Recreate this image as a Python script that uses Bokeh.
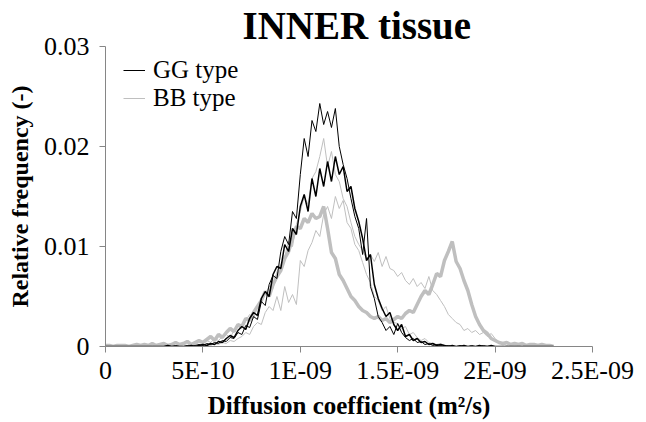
from bokeh.plotting import figure
from bokeh.models import Title, Legend, LegendItem, FixedTicker, Range1d
from bokeh.embed import file_html
from bokeh.resources import INLINE

# Bin centres of the diffusion coefficient histogram (units of 1E-09 m²/s), 0.00 .. 2.30 step 0.02
X_NS = [round(0.02 * i, 2) for i in range(116)]

GG_THIN = [
    0, 0, 0, 0, 0,
    0, 0, 0, 0, 0,
    0, 0, 0, 0, 0,
    0, 0, 0, 0.0001, 0,
    0, 0.0001, 0, 0.0001, 0.0002,
    0.0001, 0.0003, 0.0002, 0.0004, 0.0003,
    0.0006, 0.0005, 0.0009, 0.0008, 0.0014,
    0.0012, 0.0021, 0.0019, 0.0030, 0.0027,
    0.0045, 0.0041, 0.0062, 0.0071, 0.0068,
    0.0095, 0.0110, 0.0102, 0.0135, 0.0128,
    0.0172, 0.0208, 0.0190, 0.0226, 0.0215,
    0.0243, 0.0222, 0.0235, 0.0219, 0.0238,
    0.0200, 0.0182, 0.0168, 0.0148, 0.0130,
    0.0118, 0.0092, 0.0128, 0.0060, 0.0048,
    0.0030, 0.0024, 0.0016, 0.0020, 0.0012,
    0.0023, 0.0014, 0.0009, 0.0006, 0.0008,
    0.0004, 0.0005, 0.0002, 0.0003, 0.0001,
    0.0002, 0.0001, 0, 0.0001, 0,
    0, 0.0001, 0, 0, 0.0001,
    0, 0, 0.0001, 0, 0,
    0, 0, 0, 0, 0,
    0, 0, 0, 0, 0,
    0, 0, 0, 0, 0,
    0,
]

GG_MED = [
    0, 0, 0, 0, 0,
    0, 0, 0, 0, 0,
    0, 0, 0, 0, 0,
    0, 0.0001, 0, 0, 0,
    0, 0, 0.0001, 0, 0.0001,
    0.0002, 0.0001, 0.0003, 0.0002, 0.0005,
    0.0004, 0.0008, 0.0011, 0.0009, 0.0016,
    0.0020, 0.0017, 0.0028, 0.0034, 0.0031,
    0.0048, 0.0055, 0.0050, 0.0072, 0.0080,
    0.0078, 0.0102, 0.0095, 0.0118, 0.0112,
    0.0140, 0.0152, 0.0135, 0.0168, 0.0150,
    0.0178, 0.0160, 0.0185, 0.0165, 0.0190,
    0.0172, 0.0180, 0.0155, 0.0160, 0.0138,
    0.0125, 0.0108, 0.0086, 0.0092, 0.0062,
    0.0048, 0.0038, 0.0030, 0.0034, 0.0022,
    0.0016, 0.0022, 0.0010, 0.0012, 0.0006,
    0.0008, 0.0004, 0.0005, 0.0002, 0.0003,
    0.0001, 0.0002, 0.0001, 0, 0.0001,
    0, 0, 0.0001, 0, 0,
    0, 0.0001, 0, 0, 0.0001,
    0, 0, 0, 0, 0,
    0, 0, 0, 0, 0,
    0, 0, 0, 0, 0,
    0,
]

BB_THIN_A = [
    0, 0, 0, 0, 0,
    0, 0, 0, 0, 0,
    0, 0.0001, 0, 0.0001, 0,
    0.0001, 0, 0.0002, 0.0001, 0.0001,
    0.0002, 0.0001, 0.0003, 0.0002, 0.0004,
    0.0003, 0.0006, 0.0004, 0.0008, 0.0006,
    0.0010, 0.0012, 0.0009, 0.0016, 0.0020,
    0.0018, 0.0026, 0.0032, 0.0028, 0.0040,
    0.0046, 0.0052, 0.0060, 0.0058, 0.0075,
    0.0082, 0.0090, 0.0105, 0.0100, 0.0122,
    0.0135, 0.0150, 0.0142, 0.0168, 0.0175,
    0.0190, 0.0208, 0.0180, 0.0195, 0.0172,
    0.0165, 0.0148, 0.0140, 0.0124, 0.0110,
    0.0102, 0.0096, 0.0088, 0.0092, 0.0085,
    0.0094, 0.0080, 0.0090, 0.0078, 0.0076,
    0.0070, 0.0074, 0.0066, 0.0062, 0.0068,
    0.0060, 0.0064, 0.0058, 0.0070, 0.0056,
    0.0052, 0.0046, 0.0040, 0.0032, 0.0028,
    0.0024, 0.0022, 0.0016, 0.0018, 0.0014,
    0.0016, 0.0012, 0.0014, 0.0010, 0.0013,
    0.0008, 0.0004, 0.0003, 0.0001, 0.0002,
    0.0001, 0, 0, 0, 0,
    0, 0, 0, 0, 0,
    0,
]

BB_THIN_B = [
    0, 0, 0, 0, 0,
    0, 0, 0, 0, 0,
    0, 0, 0.0001, 0, 0,
    0, 0.0001, 0, 0, 0.0001,
    0, 0.0001, 0, 0.0001, 0,
    0.0001, 0.0002, 0.0001, 0.0003, 0.0002,
    0.0004, 0.0003, 0.0006, 0.0005, 0.0008,
    0.0010, 0.0014, 0.0012, 0.0020, 0.0024,
    0.0022, 0.0034, 0.0040, 0.0036, 0.0050,
    0.0036, 0.0060, 0.0044, 0.0052, 0.0042,
    0.0086, 0.0080, 0.0096, 0.0104, 0.0116,
    0.0110, 0.0132, 0.0140, 0.0128, 0.0150,
    0.0138, 0.0146, 0.0124, 0.0118, 0.0102,
    0.0096, 0.0084, 0.0072, 0.0064, 0.0050,
    0.0046, 0.0036, 0.0040, 0.0028, 0.0024,
    0.0023, 0.0018, 0.0020, 0.0012, 0.0014,
    0.0009, 0.0006, 0.0008, 0.0004, 0.0003,
    0.0002, 0.0003, 0.0001, 0.0001, 0,
    0, 0.0001, 0, 0, 0,
    0, 0, 0, 0.0001, 0,
    0, 0, 0, 0, 0,
    0, 0, 0, 0, 0,
    0, 0, 0, 0, 0,
    0,
]

BB_THICK = [
    0.0001, 0.0001, 0, 0.0001, 0.0001,
    0.0001, 0, 0.0001, 0.0002, 0.0001,
    0.0002, 0.0001, 0.0003, 0.0001, 0.0002,
    0.0003, 0.0001, 0.0002, 0.0004, 0.0002,
    0.0003, 0.0005, 0.0002, 0.0004, 0.0006,
    0.0004, 0.0007, 0.0010, 0.0006, 0.0012,
    0.0009, 0.0014, 0.0018, 0.0015, 0.0022,
    0.0020, 0.0028, 0.0026, 0.0034, 0.0040,
    0.0046, 0.0055, 0.0050, 0.0062, 0.0070,
    0.0076, 0.0088, 0.0095, 0.0108, 0.0120,
    0.0118, 0.0128, 0.0124, 0.0133, 0.0128,
    0.0130, 0.0140, 0.0118, 0.0094, 0.0088,
    0.0072, 0.0066, 0.0058, 0.0050, 0.0046,
    0.0040, 0.0036, 0.0034, 0.0030, 0.0028,
    0.0030, 0.0026, 0.0028, 0.0024, 0.0027,
    0.0030, 0.0028, 0.0033, 0.0036, 0.0034,
    0.0042, 0.0050, 0.0056, 0.0052, 0.0062,
    0.0073, 0.0070, 0.0086, 0.0095, 0.0105,
    0.0085, 0.0078, 0.0066, 0.0056, 0.0042,
    0.0030, 0.0022, 0.0016, 0.0013, 0.0008,
    0.0006, 0.0004, 0.0003, 0.0004, 0.0002,
    0.0003, 0.0002, 0.0003, 0.0001, 0.0002,
    0.0002, 0.0001, 0.0002, 0.0001, 0.0001,
    0,
]

X_TICKS = [0, 0.5, 1.0, 1.5, 2.0, 2.5]
X_TICK_LABELS = ["0", "5E-10", "1E-09", "1.5E-09", "2E-09", "2.5E-09"]
Y_TICKS = [0, 0.01, 0.02, 0.03]
Y_TICK_LABELS = ["0", "0.01", "0.02", "0.03"]

TITLE = "INNER tissue"
X_LABEL = "Diffusion coefficient (m²/s)"
Y_LABEL = "Relative frequency (-)"
SERIES_NAMES = ["GG type", "BB type"]

FONT = "Liberation Serif"
BLACK = "#000000"
GRAY = "#bfbfbf"
AXIS_GRAY = "#868686"

p = figure(
    width=646, height=422,
    frame_width=487, frame_height=300,
    x_range=Range1d(0, 2.5), y_range=Range1d(0, 0.03),
    output_backend="svg", toolbar_location=None,
    min_border_left=105, min_border_right=54, min_border_top=46, min_border_bottom=76,
)
p.outline_line_color = None
p.xgrid.visible = False
p.ygrid.visible = False
p.background_fill_color = "white"
p.border_fill_color = "white"

title = Title(text=TITLE, align="left", offset=137, text_font=FONT,
              text_font_size="39px", text_font_style="bold", text_color="black",
              standoff=0)
p.add_layout(title, "above")

# Lines (gray first, black above)
r_bb_thick = p.line(X_NS, BB_THICK, line_color=GRAY, line_width=3.5)
r_bb_a = p.line(X_NS, BB_THIN_A, line_color=GRAY, line_width=1)
r_bb_b = p.line(X_NS, BB_THIN_B, line_color=GRAY, line_width=1)
r_gg_med = p.line(X_NS, GG_MED, line_color=BLACK, line_width=1.5)
r_gg_thin = p.line(X_NS, GG_THIN, line_color=BLACK, line_width=1)

legend = Legend(
    items=[LegendItem(label=SERIES_NAMES[0], renderers=[r_gg_thin]),
           LegendItem(label=SERIES_NAMES[1], renderers=[r_bb_a])],
    location=(18, 234), padding=0, margin=0, spacing=0,
    glyph_width=22, glyph_height=28, label_height=28, label_standoff=8,
    label_text_font=FONT, label_text_font_size="25px", label_text_color="black",
    border_line_alpha=0, background_fill_alpha=0,
)
p.add_layout(legend, "center")

# Axes
p.xaxis.ticker = FixedTicker(ticks=X_TICKS)
p.xaxis.major_label_overrides = {t: l for t, l in zip(X_TICKS, X_TICK_LABELS)}
p.yaxis.ticker = FixedTicker(ticks=Y_TICKS)
p.yaxis.major_label_overrides = {t: l for t, l in zip(Y_TICKS, Y_TICK_LABELS)}
for ax in (p.xaxis, p.yaxis):
    ax.axis_line_color = AXIS_GRAY
    ax.major_tick_line_color = AXIS_GRAY
    ax.major_tick_out = 6
    ax.major_tick_in = 0
    ax.minor_tick_line_color = None
    ax.major_label_text_font = FONT
    ax.major_label_text_font_size = "26px"
    ax.major_label_text_color = "black"
    ax.axis_label_text_font = FONT
    ax.axis_label_text_font_style = "bold"
    ax.axis_label_text_color = "black"
p.xaxis.axis_label_text_font_size = "25px"
p.yaxis.axis_label_text_font_size = "24px"
p.xaxis.axis_label = X_LABEL
p.yaxis.axis_label = Y_LABEL
p.xaxis.major_label_standoff = 3
p.yaxis.major_label_standoff = 10
p.xaxis.axis_label_standoff = 4
p.yaxis.axis_label_standoff = 8

html = file_html(p, INLINE)
open("out.html", "w").write(html)
